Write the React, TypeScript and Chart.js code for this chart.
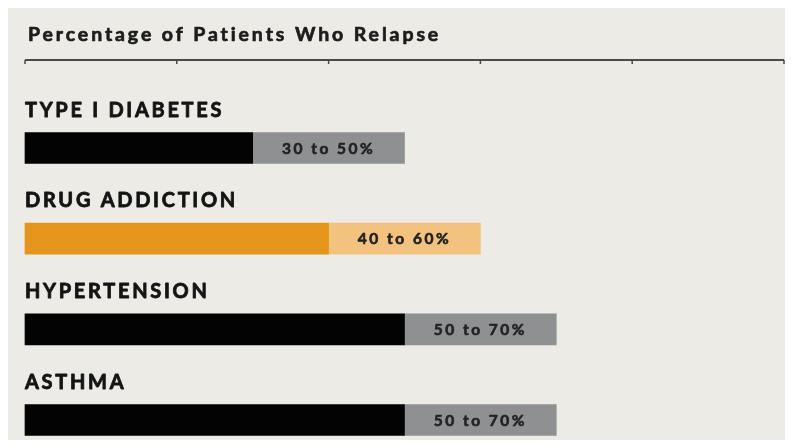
import React, { useEffect, useRef } from "react";
import { Chart, registerables } from "chart.js";

Chart.register(...registerables);

const TITLE = "Percentage of Patients Who Relapse";
const categories = ["TYPE I DIABETES", "DRUG ADDICTION", "HYPERTENSION", "ASTHMA"];
const lowPct = [30, 40, 50, 50];
const highPct = [50, 60, 70, 70];
const axisTicks = [0, 20, 40, 60, 80, 100];
const solidColors = ["#030303", "#e3961b", "#030303", "#030303"];
const lightColors = ["#8f9092", "#f3c27e", "#8f9092", "#8f9092"];

const BG = "#ecebe6";
const FONT = "Lato, 'Open Sans', sans-serif";

function heavyText(ctx: CanvasRenderingContext2D, text: string, x: number, y: number, w: number) {
  ctx.lineWidth = w;
  ctx.lineJoin = "round";
  ctx.strokeStyle = ctx.fillStyle as string;
  ctx.strokeText(text, x, y);
  ctx.fillText(text, x, y);
}

const textPlugin = {
  id: "relapseText",
  afterDatasetsDraw(chart: any) {
    const ctx = chart.ctx as CanvasRenderingContext2D;
    const xs = chart.scales.x;
    const ys = chart.scales.y;
    ctx.save();
    // title
    ctx.fillStyle = "#1c1c1c";
    ctx.textBaseline = "alphabetic";
    ctx.textAlign = "left";
    ctx.font = `bold 19.5px ${FONT}`;
    (ctx as any).letterSpacing = "2.9px";
    heavyText(ctx, TITLE, 20, 33, 0.7);

    // top axis line with ticks
    const x0 = xs.getPixelForValue(axisTicks[0]);
    const x1 = xs.getPixelForValue(axisTicks[axisTicks.length - 1]);
    const axisY = 52;
    ctx.strokeStyle = "#4a4a4a";
    ctx.lineWidth = 2;
    ctx.beginPath();
    ctx.moveTo(x0, axisY);
    ctx.lineTo(x1, axisY);
    ctx.stroke();
    ctx.lineWidth = 1.5;
    axisTicks.forEach((t) => {
      const px = xs.getPixelForValue(t);
      ctx.beginPath();
      ctx.moveTo(px, axisY);
      ctx.lineTo(px, axisY + 4);
      ctx.stroke();
    });

    // category labels and range labels
    categories.forEach((cat, i) => {
      const cy = ys.getPixelForValue(i);
      ctx.textAlign = "left";
      ctx.font = `bold 20px ${FONT}`;
      (ctx as any).letterSpacing = "2.7px";
      ctx.fillStyle = "#141414";
      heavyText(ctx, cat, xs.getPixelForValue(0), cy - 31.5, 0.8);

      const cx = (xs.getPixelForValue(lowPct[i]) + xs.getPixelForValue(highPct[i])) / 2;
      ctx.textAlign = "center";
      ctx.font = `bold 15.5px ${FONT}`;
      (ctx as any).letterSpacing = "2.5px";
      ctx.fillStyle = "#222222";
      heavyText(ctx, `${lowPct[i]} to ${highPct[i]}%`, cx, cy + 5.5, 0.6);
    });
    ctx.restore();
  },
};

export default function App() {
  const ref = useRef<HTMLCanvasElement | null>(null);
  useEffect(() => {
    if (!ref.current) return;
    const chart = new Chart(ref.current, {
      type: "bar",
      data: {
        labels: categories,
        datasets: [
          {
            data: lowPct.map((v) => [0, v]) as any,
            backgroundColor: solidColors,
            barThickness: 31,
            grouped: false,
            clip: false as any,
            borderSkipped: false,
          },
          {
            data: lowPct.map((v, i) => [v, highPct[i]]) as any,
            backgroundColor: lightColors,
            barThickness: 31,
            grouped: false,
            clip: false as any,
            borderSkipped: false,
          },
        ],
      },
      options: {
        indexAxis: "y",
        responsive: false,
        animation: false,
        layout: { padding: { top: 140, bottom: 28, left: 17, right: 9 } },
        plugins: { legend: { display: false }, tooltip: { enabled: false }, title: { display: false } },
        scales: {
          x: { type: "linear", min: 0, max: 100, display: false },
          y: { type: "category", offset: false, display: false },
        },
      },
      plugins: [textPlugin],
    });
    return () => chart.destroy();
  }, []);
  return (
    <div style={{ margin: -8, width: 793, height: 448, background: "#ffffff", position: "relative", overflow: "hidden" }}>
      <div style={{ position: "absolute", left: 8, top: 8, width: 785, height: 440, background: BG }}>
        <canvas ref={ref} width={785} height={440} style={{ display: "block" }} />
      </div>
    </div>
  );
}
